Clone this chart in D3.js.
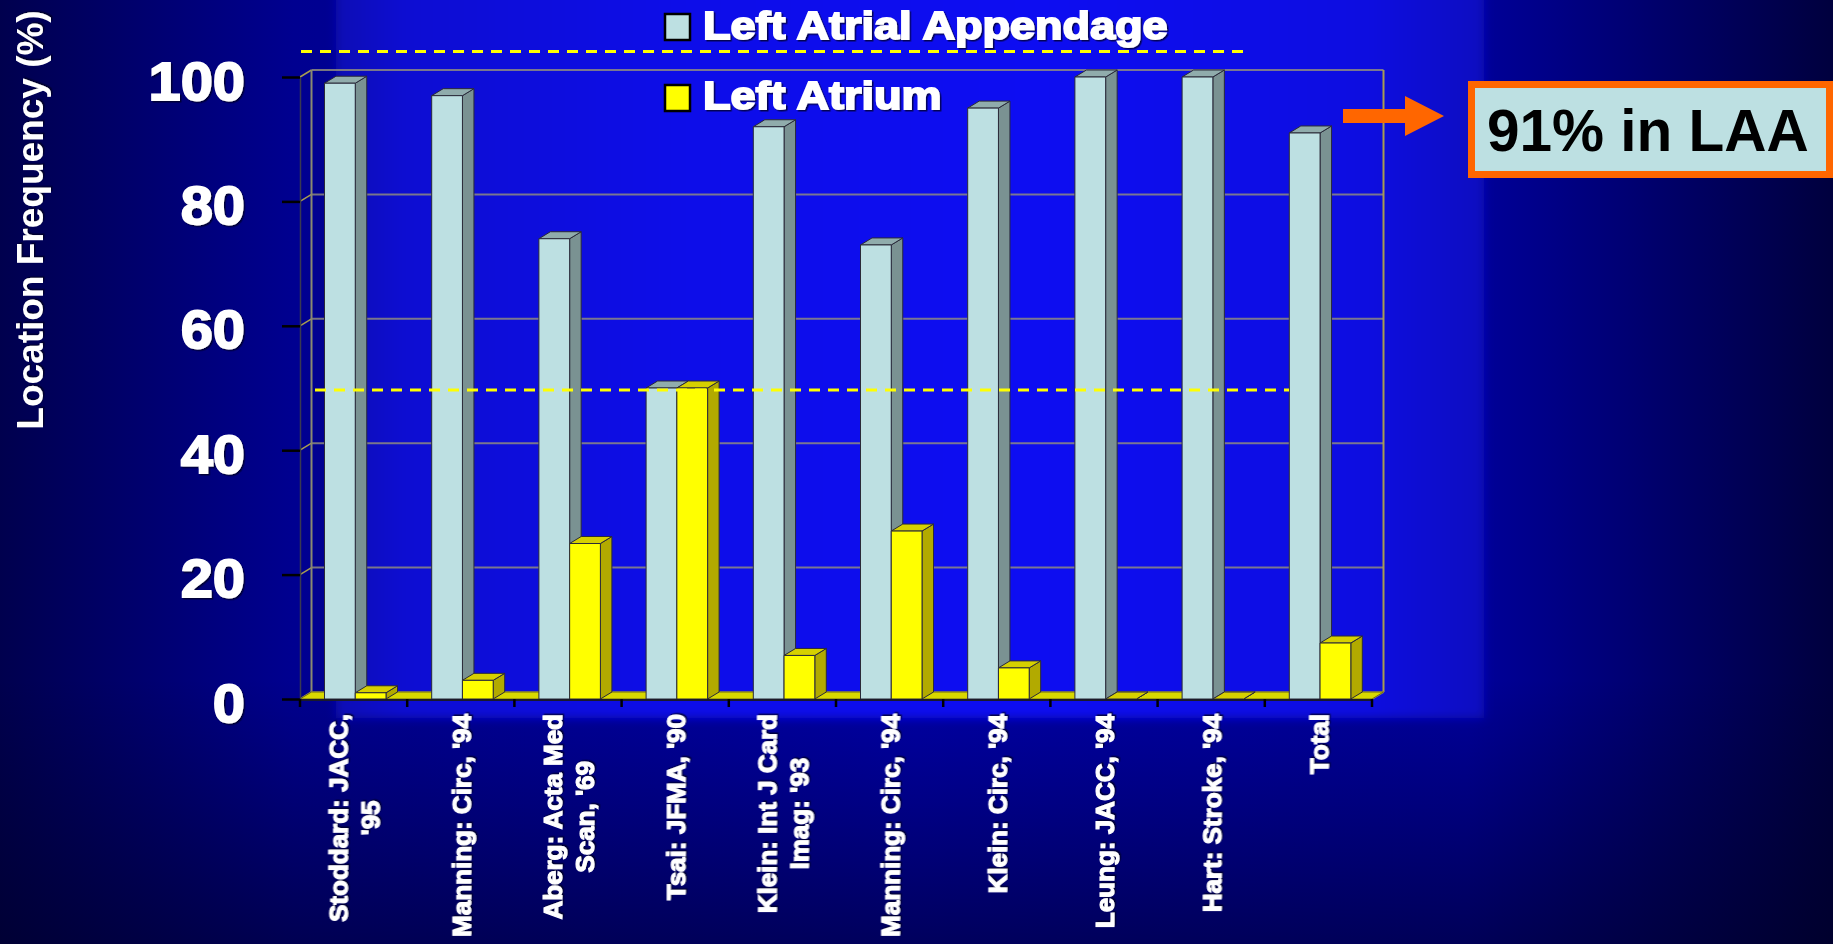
<!DOCTYPE html>
<html>
<head>
<meta charset="utf-8">
<script src="https://cdn.jsdelivr.net/npm/d3@7"></script>
<style>
  html, body { margin: 0; padding: 0; background: #000060; overflow: hidden; }
  svg { display: block; }
  text { font-family: "Liberation Sans", Arial, sans-serif; font-weight: bold; }
</style>
</head>
<body>
<svg id="chart" width="1833" height="944"></svg>
<script>
// Study labels (line breaks mark wrapped axis labels)
const categories = [
  "Stoddard: JACC,\n'95",
  "Manning: Circ, '94",
  "Aberg: Acta Med\nScan, '69",
  "Tsai: JFMA, '90",
  "Klein: Int J Card\nImag: '93",
  "Manning: Circ, '94",
  "Klein: Circ, '94",
  "Leung: JACC, '94",
  "Hart: Stroke, '94",
  "Total"
];
// Location frequency (%) of thrombus
const laaValues = [99, 97, 74, 50, 92, 73, 95, 100, 100, 91];
const laValues  = [1, 3, 25, 50, 7, 27, 5, 0, 0, 9];
const seriesNames = ["Left Atrial Appendage", "Left Atrium"];
const yTicks = [0, 20, 40, 60, 80, 100];
const yTitle = "Location Frequency (%)";
const calloutText = "91% in LAA";
const refLevel = 50;

const svg = d3.select("#chart");
const W = 1833, H = 944;
const defs = svg.append("defs");

// ---------- background ----------
const bgH = defs.append("linearGradient").attr("id", "bgH").attr("x1", 0).attr("x2", 1).attr("y1", 0).attr("y2", 0);
[[0, "#00004e"], [0.16, "#000090"], [0.5, "#0000a8"], [0.8, "#00009c"], [1, "#00003e"]]
  .forEach(([o, c]) => bgH.append("stop").attr("offset", o).attr("stop-color", c));
const bgV = defs.append("linearGradient").attr("id", "bgV").attr("x1", 0).attr("x2", 0).attr("y1", 0).attr("y2", 1);
[[0, "#000020", 0], [0.72, "#000020", 0], [1, "#000020", 0.55]]
  .forEach(([o, c, a]) => bgV.append("stop").attr("offset", o).attr("stop-color", c).attr("stop-opacity", a));
const panelG = defs.append("linearGradient").attr("id", "panelG").attr("x1", 0).attr("x2", 1).attr("y1", 0).attr("y2", 0);
[[0, "#0707b4"], [0.06, "#0a0ad2"], [0.3, "#0c0ce8"], [0.6, "#0e0ef2"], [0.9, "#0c0ce0"], [1, "#0909c0"]]
  .forEach(([o, c]) => panelG.append("stop").attr("offset", o).attr("stop-color", c));
defs.append("filter").attr("id", "soft").attr("x", -0.05).attr("y", -0.05).attr("width", 1.1).attr("height", 1.1)
  .append("feGaussianBlur").attr("stdDeviation", 5);
const sh = defs.append("filter").attr("id", "shadow").attr("x", -0.1).attr("y", -0.1).attr("width", 1.2).attr("height", 1.3);
sh.append("feDropShadow").attr("dx", 1.5).attr("dy", 1.5).attr("stdDeviation", 0.6)
  .attr("flood-color", "#000020").attr("flood-opacity", 0.75);

svg.append("rect").attr("width", W).attr("height", H).attr("fill", "url(#bgH)");
svg.append("rect").attr("width", W).attr("height", H).attr("fill", "url(#bgV)");
svg.append("rect").attr("x", 336).attr("y", -20).attr("width", 1148).attr("height", 738)
  .attr("fill", "url(#panelG)").attr("filter", "url(#soft)");

// ---------- scales ----------
const x0 = d3.scaleBand().domain(d3.range(categories.length)).range([300, 1372]).padding(0);
const x1 = d3.scaleBand().domain(["laa", "la"]).range([24.5, 86]);
const y = d3.scaleLinear().domain([0, 100]).range([699, 77]);
const D = { dx: 11.5, dy: -7 };   // 3-D depth offset
const xL = x0.range()[0], xR = x0.range()[1], y0 = y(0);

// ---------- walls, floor, gridlines ----------
const wall = svg.append("g");
yTicks.forEach(t => {
  wall.append("line").attr("x1", xL + D.dx).attr("x2", xR + D.dx)
    .attr("y1", y(t) + D.dy).attr("y2", y(t) + D.dy)
    .attr("stroke", "#96927a").attr("stroke-opacity", 0.8).attr("stroke-width", 2);
  wall.append("line").attr("x1", xL).attr("x2", xL + D.dx)
    .attr("y1", y(t)).attr("y2", y(t) + D.dy)
    .attr("stroke", "#a89c50").attr("stroke-width", 1.5);
});
wall.append("line").attr("x1", xL + D.dx).attr("x2", xL + D.dx).attr("y1", y(100) + D.dy).attr("y2", y0 + D.dy)
  .attr("stroke", "#8a8a70").attr("stroke-width", 2);
wall.append("line").attr("x1", xR + D.dx).attr("x2", xR + D.dx).attr("y1", y(100) + D.dy).attr("y2", y0 + D.dy)
  .attr("stroke", "#a89c50").attr("stroke-width", 2);
wall.append("line").attr("x1", xR).attr("x2", xR + D.dx).attr("y1", y0).attr("y2", y0 + D.dy)
  .attr("stroke", "#a89c50").attr("stroke-width", 1.5);
// floor
wall.append("path")
  .attr("d", `M${xL},${y0}L${xR},${y0}L${xR + D.dx},${y0 + D.dy}L${xL + D.dx},${y0 + D.dy}Z`)
  .attr("fill", "#d8d800").attr("stroke", "#6e6a10").attr("stroke-width", 1);

// ---------- 3-D bars ----------
const palette = {
  laa: { front: "#bde0e2", side: "#7a9292", top: "#90acac" },
  la:  { front: "#ffff00", side: "#b2aa00", top: "#d6d000" }
};
const bars = svg.append("g").attr("stroke", "#2a2a38").attr("stroke-width", 1).attr("stroke-linejoin", "round");
function bar3d(g, xPos, w, v, col) {
  const yt = y(v);
  g.append("path")
    .attr("d", `M${xPos + w},${yt}L${xPos + w + D.dx},${yt + D.dy}L${xPos + w + D.dx},${y0 + D.dy}L${xPos + w},${y0}Z`)
    .attr("fill", col.side);
  g.append("path")
    .attr("d", `M${xPos},${yt}L${xPos + D.dx},${yt + D.dy}L${xPos + w + D.dx},${yt + D.dy}L${xPos + w},${yt}Z`)
    .attr("fill", col.top);
  if (v > 0) {
    g.append("rect").attr("x", xPos).attr("y", yt).attr("width", w).attr("height", y0 - yt).attr("fill", col.front);
  }
}
categories.forEach((c, i) => {
  const g = bars.append("g");
  bar3d(g, x0(i) + x1("laa"), x1.bandwidth(), laaValues[i], palette.laa);
  bar3d(g, x0(i) + x1("la"), x1.bandwidth(), laValues[i], palette.la);
});

// ---------- axes ----------
const yAxis = svg.append("g").attr("transform", `translate(${xL},0)`)
  .call(d3.axisLeft(y).tickValues(yTicks).tickSize(18).tickSizeOuter(0).tickPadding(37));
yAxis.select(".domain").attr("stroke", "#3a3a50").attr("stroke-width", 1.5);
yAxis.selectAll(".tick line").attr("stroke", "#000").attr("stroke-width", 2.5);
yAxis.selectAll(".tick text")
  .attr("fill", "#fff").attr("stroke", "#fff").attr("stroke-width", 1.8)
  .attr("font-size", 54).attr("font-family", "'Liberation Sans', Arial, sans-serif").attr("font-weight", "bold")
  .attr("dy", null).attr("y", 22).attr("filter", "url(#shadow)");
yAxis.selectAll(".tick text").each(function () {
  const len = this.getComputedTextLength();
  d3.select(this).attr("textLength", len * 1.07).attr("lengthAdjust", "spacingAndGlyphs");
});

// x axis baseline and category ticks
svg.append("line").attr("x1", xL).attr("x2", xR).attr("y1", y0 + 1).attr("y2", y0 + 1)
  .attr("stroke", "#1a1a2a").attr("stroke-width", 2);
svg.append("g").selectAll("line").data(d3.range(categories.length + 1)).join("line")
  .attr("x1", i => xL + i * x0.step()).attr("x2", i => xL + i * x0.step())
  .attr("y1", y0).attr("y2", y0 + 8).attr("stroke", "#000").attr("stroke-width", 2.5);

// rotated category labels
const lineGap = 32, labelTop = 714;
categories.forEach((c, i) => {
  const lines = c.split("\n");
  const g = svg.append("g")
    .attr("transform", `translate(${x0(i) + x0.bandwidth() / 2},${labelTop}) rotate(-90)`)
    .attr("filter", "url(#shadow)");
  const texts = lines.map((ln, k) => g.append("text")
    .attr("y", (k - (lines.length - 1) / 2) * lineGap + 9.5)
    .attr("font-size", 26).attr("fill", "#fff").attr("stroke", "#fff").attr("stroke-width", 1.1)
    .attr("text-anchor", "middle").text(ln));
  const maxLen = d3.max(texts, t => t.node().getComputedTextLength());
  texts.forEach(t => t.attr("x", -maxLen / 2));
});

// y axis title
svg.append("text").attr("transform", "translate(43,220) rotate(-90)")
  .attr("text-anchor", "middle").attr("font-size", 37).attr("fill", "#fff")
  .attr("filter", "url(#shadow)").text(yTitle);

// ---------- reference dashed lines ----------
svg.append("line").attr("x1", 301).attr("x2", 1246).attr("y1", 51.5).attr("y2", 51.5)
  .attr("stroke", "#ffff00").attr("stroke-width", 3).attr("stroke-dasharray", "11,8");
svg.append("line").attr("x1", xL + 15).attr("x2", 1289).attr("y1", y(refLevel) + 2).attr("y2", y(refLevel) + 2)
  .attr("stroke", "#ffff00").attr("stroke-width", 3).attr("stroke-dasharray", "11,8");

// ---------- legend ----------
const legend = svg.append("g");
[[palette.laa.front, 14, 39], [palette.la.front, 85, 109]].forEach(([col, top, base], k) => {
  legend.append("rect").attr("x", 665).attr("y", top).attr("width", 25).attr("height", 26)
    .attr("fill", col).attr("stroke", "#000").attr("stroke-width", 2.5);
  const t = legend.append("text").attr("x", 703).attr("y", base)
    .attr("font-size", 38.5).attr("fill", "#fff").attr("stroke", "#fff").attr("stroke-width", 1.8)
    .attr("filter", "url(#shadow)").text(seriesNames[k]);
  t.attr("textLength", t.node().getComputedTextLength() * 1.17).attr("lengthAdjust", "spacingAndGlyphs");
});

// ---------- callout ----------
svg.append("path")
  .attr("d", "M1343,109L1405,109L1405,96L1444,116L1405,136L1405,123L1343,123Z")
  .attr("fill", "#ff6600");
svg.append("rect").attr("x", 1471.5).attr("y", 84.5).attr("width", 358).attr("height", 90)
  .attr("fill", "#bde0e2").attr("stroke", "#ff6600").attr("stroke-width", 7);
svg.append("text").attr("x", 1487).attr("y", 150.5).attr("font-size", 58.5).attr("fill", "#000")
  .text(calloutText);
</script>
</body>
</html>
